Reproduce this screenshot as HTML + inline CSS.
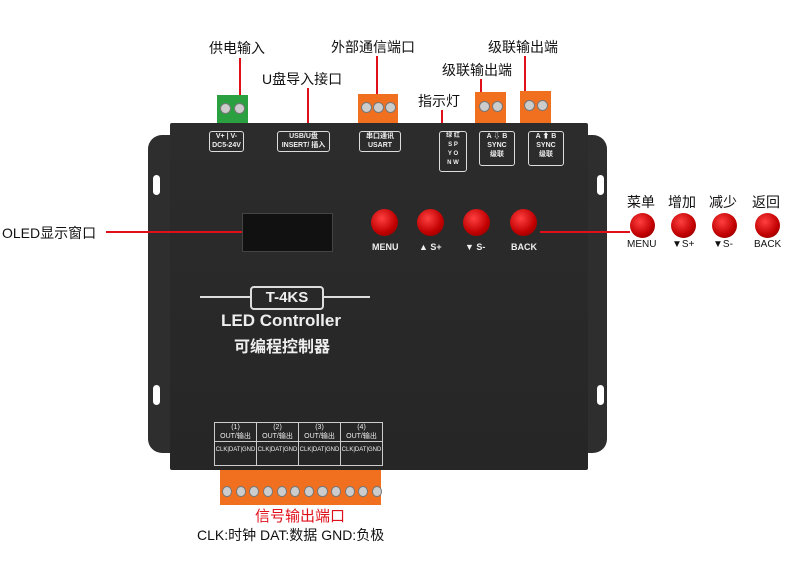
<!DOCTYPE html><html><head><meta charset="utf-8"><style>
body{margin:0;width:790px;height:578px;background:#fff;position:relative;overflow:hidden;font-family:"Liberation Sans","Noto Sans CJK SC",sans-serif}
.a{position:absolute}
.t{position:absolute;font-size:14px;color:#111;white-space:nowrap}
.l{position:absolute;background:#e0101a}
.btn{position:absolute;border-radius:50%;background:radial-gradient(circle at 40% 35%,#ff4040,#c00000 60%,#700);}
.w{color:#eee;font-weight:bold;position:absolute;white-space:nowrap}
.or{position:absolute;background:#f07020}
.sc{position:absolute;width:9px;height:9px;border-radius:50%;background:#ccc;border:1px solid #777}
.bx{position:absolute;border:1px solid #ddd;border-radius:3px;color:#eee;font-size:7px;font-weight:bold;text-align:center;line-height:9px}
</style></head><body>
<!-- wings -->
<div class="a" style="left:148px;top:135px;width:40px;height:318px;background:#2e2e2e;border-radius:14px"></div>
<div class="a" style="left:575px;top:135px;width:32px;height:318px;background:#2e2e2e;border-radius:14px"></div>
<div class="a" style="left:153px;top:175px;width:7px;height:20px;background:#fff;border-radius:4px"></div>
<div class="a" style="left:153px;top:385px;width:7px;height:20px;background:#fff;border-radius:4px"></div>
<div class="a" style="left:597px;top:175px;width:7px;height:20px;background:#fff;border-radius:4px"></div>
<div class="a" style="left:597px;top:385px;width:7px;height:20px;background:#fff;border-radius:4px"></div>
<!-- body -->
<div class="a" style="left:170px;top:123px;width:418px;height:347px;background:linear-gradient(#2c2c2c,#262626);border-radius:2px"></div>
<!-- connectors top -->
<div class="a" style="left:217px;top:95px;width:31px;height:28px;background:#2aa040"></div>
<div class="sc" style="left:220px;top:103px"></div><div class="sc" style="left:234px;top:103px"></div>
<div class="or" style="left:358px;top:94px;width:40px;height:29px"></div>
<div class="sc" style="left:361px;top:102px"></div><div class="sc" style="left:373px;top:102px"></div><div class="sc" style="left:385px;top:102px"></div>
<div class="or" style="left:475px;top:92px;width:31px;height:31px"></div>
<div class="sc" style="left:479px;top:101px"></div><div class="sc" style="left:492px;top:101px"></div>
<div class="or" style="left:520px;top:91px;width:31px;height:32px"></div>
<div class="sc" style="left:524px;top:100px"></div><div class="sc" style="left:537px;top:100px"></div>
<!-- port label boxes -->
<div class="bx" style="left:209px;top:131px;width:33px;height:19px">V+ | V-<br>DC5-24V</div>
<div class="bx" style="left:277px;top:131px;width:51px;height:19px">USB/U盘<br>INSERT/ 插入</div>
<div class="bx" style="left:359px;top:131px;width:40px;height:19px">串口通讯<br>USART</div>
<div class="bx" style="left:439px;top:131px;width:26px;height:39px;font-size:6px">绿 红<br>S&nbsp;P<br>Y&nbsp;O<br>N&nbsp;W</div>
<div class="bx" style="left:479px;top:131px;width:34px;height:33px">A ⇩ B<br>SYNC<br>级联</div>
<div class="bx" style="left:528px;top:131px;width:34px;height:33px">A ⬆ B<br>SYNC<br>级联</div>
<!-- top labels -->
<div class="t" style="left:209px;top:38px">供电输入</div><div class="l" style="left:239px;top:58px;width:2px;height:37px"></div>
<div class="t" style="left:262px;top:69px">U盘导入接口</div><div class="l" style="left:307px;top:88px;width:2px;height:35px"></div>
<div class="t" style="left:331px;top:37px">外部通信端口</div><div class="l" style="left:376px;top:56px;width:2px;height:38px"></div>
<div class="t" style="left:418px;top:91px">指示灯</div><div class="l" style="left:441px;top:110px;width:2px;height:13px"></div>
<div class="t" style="left:488px;top:37px">级联输出端</div><div class="l" style="left:524px;top:56px;width:2px;height:35px"></div>
<div class="t" style="left:442px;top:60px">级联输出端</div><div class="l" style="left:480px;top:79px;width:2px;height:13px"></div>
<!-- OLED -->
<div class="a" style="left:242px;top:213px;width:89px;height:37px;background:#111;border:1px solid #444"></div>
<div class="l" style="left:106px;top:231px;width:136px;height:2px"></div>
<div class="t" style="left:2px;top:223px">OLED显示窗口</div>
<!-- buttons -->
<div class="btn" style="left:371px;top:209px;width:27px;height:27px"></div>
<div class="btn" style="left:417px;top:209px;width:27px;height:27px"></div>
<div class="btn" style="left:463px;top:209px;width:27px;height:27px"></div>
<div class="btn" style="left:510px;top:209px;width:27px;height:27px"></div>
<div class="w" style="left:372px;top:242px;font-size:9px">MENU</div>
<div class="w" style="left:419px;top:242px;font-size:9px">▲ S+</div>
<div class="w" style="left:465px;top:242px;font-size:9px">▼ S-</div>
<div class="w" style="left:511px;top:242px;font-size:9px">BACK</div>
<div class="l" style="left:540px;top:231px;width:90px;height:2px"></div>
<!-- right legend -->
<div class="btn" style="left:630px;top:213px;width:25px;height:25px"></div>
<div class="btn" style="left:671px;top:213px;width:25px;height:25px"></div>
<div class="btn" style="left:712px;top:213px;width:25px;height:25px"></div>
<div class="btn" style="left:755px;top:213px;width:25px;height:25px"></div>
<div class="t" style="left:627px;top:192px">菜单</div>
<div class="t" style="left:668px;top:192px">增加</div>
<div class="t" style="left:709px;top:192px">减少</div>
<div class="t" style="left:752px;top:192px">返回</div>
<div class="t" style="left:627px;top:239px;font-size:10px">MENU</div>
<div class="t" style="left:672px;top:239px;font-size:10px">▼S+</div>
<div class="t" style="left:713px;top:239px;font-size:10px">▼S-</div>
<div class="t" style="left:754px;top:239px;font-size:10px">BACK</div>
<!-- title -->
<div class="a" style="left:200px;top:296px;width:170px;height:2px;background:#ddd"></div>
<div class="a" style="left:250px;top:286px;width:70px;height:20px;background:#282828;border:2px solid #ddd;border-radius:4px;color:#eee;font-weight:bold;font-size:15px;text-align:center;line-height:20px">T-4KS</div>
<div class="w" style="left:221px;top:311px;font-size:17px">LED Controller</div>
<div class="w" style="left:234px;top:333px;font-size:16px">可编程控制器</div>
<!-- bottom table -->
<div class="a" style="left:214px;top:422px;width:167px;height:42px;border:1px solid #ccc;display:flex">
<div style="flex:1;border-right:1px solid #ccc;color:#eee;font-size:7px;text-align:center;line-height:9px">(1)<br>OUT/输出<div style="border-top:1px solid #ccc;height:16px;font-size:6px;line-height:16px">CLK|DAT|GND</div></div>
<div style="flex:1;border-right:1px solid #ccc;color:#eee;font-size:7px;text-align:center;line-height:9px">(2)<br>OUT/输出<div style="border-top:1px solid #ccc;height:16px;font-size:6px;line-height:16px">CLK|DAT|GND</div></div>
<div style="flex:1;border-right:1px solid #ccc;color:#eee;font-size:7px;text-align:center;line-height:9px">(3)<br>OUT/输出<div style="border-top:1px solid #ccc;height:16px;font-size:6px;line-height:16px">CLK|DAT|GND</div></div>
<div style="flex:1;color:#eee;font-size:7px;text-align:center;line-height:9px">(4)<br>OUT/输出<div style="border-top:1px solid #ccc;height:16px;font-size:6px;line-height:16px">CLK|DAT|GND</div></div>
</div>
<div class="or" style="left:220px;top:470px;width:161px;height:35px"></div>
<div class="a" style="left:222px;top:486px;width:160px;height:9px;display:flex;gap:3.5px">
<div class="sc" style="position:static"></div><div class="sc" style="position:static"></div><div class="sc" style="position:static"></div><div class="sc" style="position:static"></div><div class="sc" style="position:static"></div><div class="sc" style="position:static"></div><div class="sc" style="position:static"></div><div class="sc" style="position:static"></div><div class="sc" style="position:static"></div><div class="sc" style="position:static"></div><div class="sc" style="position:static"></div><div class="sc" style="position:static"></div></div>
<div class="t" style="left:255px;top:505px;font-size:15px;color:#e0101a">信号输出端口</div>
<div class="t" style="left:197px;top:525px;font-size:14px">CLK:时钟 DAT:数据 GND:负极</div>
</body></html>
